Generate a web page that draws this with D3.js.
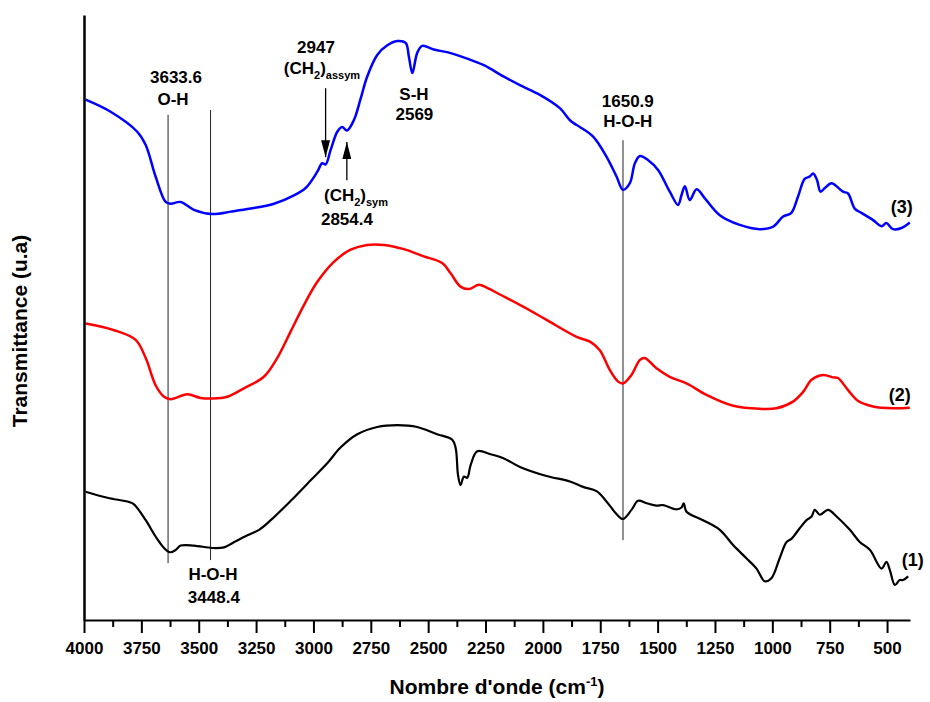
<!DOCTYPE html>
<html>
<head>
<meta charset="utf-8">
<script src="https://cdn.jsdelivr.net/npm/d3@7"></script>
<style>
  html, body { margin: 0; padding: 0; background: #fff; }
  svg { display: block; font-family: "Liberation Sans", Arial, sans-serif; }
  .tick text { font-weight: bold; font-size: 17px; }
  .lbl { font-weight: bold; font-size: 17px; fill: #000; }
  .series-lbl { font-weight: bold; font-size: 18px; fill: #000; }
  .title { font-weight: bold; font-size: 21px; fill: #000; }
</style>
</head>
<body>
<svg id="chart" width="930" height="702"></svg>
<script>
// FTIR spectra: [wavenumber (cm-1), transmittance (a.u.)]
const spectrum1 = [
  [3993,21.2],[3898,20.2],[3804,19.5],[3782,19.1],[3731,16.5],[3688,13.8],[3651,11.9],[3625,11.2],
  [3600,11.6],[3579,12.3],[3521,12.3],[3441,11.9],[3390,12.0],[3354,12.7],[3288,14.0],[3237,14.9],
  [3186,16.5],[3099,19.7],[3012,23.1],[2940,25.9],[2882,28.5],[2809,30.7],[2722,31.9],[2635,32.2],
  [2548,31.9],[2461,30.7],[2395,29.8],[2380,28.4],[2370,24.0],[2359,22.3],[2344,23.7],[2330,23.5],
  [2315,25.6],[2286,27.9],[2228,27.4],[2170,26.7],[2100,25.3],[1984,23.8],[1882,22.9],[1825,22.0],
  [1766,21.3],[1723,19.6],[1679,17.5],[1651,16.7],[1614,18.2],[1585,19.7],[1548,19.3],[1505,18.9],
  [1476,19.0],[1418,18.3],[1396,18.6],[1386,19.3],[1374,17.9],[1302,16.5],[1229,14.9],[1171,12.4],
  [1113,10.2],[1069,8.5],[1033,6.4],[1004,6.9],[968,10.2],[938,12.9],[917,13.4],[880,15.2],
  [851,16.5],[829,17.1],[815,18.2],[793,17.4],[757,18.2],[720,17.1],[662,14.9],[619,12.9],
  [575,11.6],[524,8.5],[503,9.6],[488,8.3],[466,5.8],[445,6.6],[430,6.6],[408,7.2]
];
const spectrum2 = [
  [3993,49.0],[3869,47.9],[3775,46.3],[3731,43.3],[3688,38.8],[3651,36.9],[3622,36.5],[3550,37.3],
  [3492,36.7],[3441,36.6],[3376,36.9],[3303,38.3],[3216,40.2],[3158,43.3],[3099,47.7],[3041,52.1],
  [2983,55.9],[2911,59.2],[2838,61.2],[2766,62.0],[2693,62.0],[2606,61.3],[2519,60.1],[2439,59.0],
  [2402,57.3],[2359,55.1],[2323,54.7],[2279,55.4],[2243,54.9],[2187,53.8],[2086,51.8],[1984,49.6],
  [1853,46.8],[1795,46.0],[1752,44.6],[1708,41.3],[1672,39.4],[1651,39.1],[1614,40.5],[1577,43.0],
  [1556,43.3],[1505,41.6],[1447,40.2],[1374,39.1],[1287,37.2],[1171,35.4],[1055,34.9],[982,35.0],
  [910,36.1],[866,37.7],[829,39.7],[779,40.5],[735,40.1],[714,40.0],[670,38.0],[626,36.2],
  [561,35.3],[474,35.0],[401,35.1]
];
const spectrum3 = [
  [3993,86.0],[3884,84.0],[3768,80.7],[3731,78.5],[3688,73.3],[3644,69.1],[3622,68.8],[3579,69.1],
  [3521,67.8],[3441,67.1],[3361,67.5],[3274,68.0],[3172,68.8],[3085,70.2],[3034,71.4],[2983,74.1],
  [2962,75.5],[2947,75.3],[2925,77.7],[2896,80.7],[2875,81.5],[2854,80.9],[2824,82.6],[2794,86.2],
  [2766,89.8],[2722,93.4],[2678,95.0],[2635,95.7],[2598,95.4],[2584,93.1],[2569,90.4],[2548,93.7],
  [2526,94.9],[2475,94.3],[2402,93.7],[2330,92.8],[2257,91.7],[2170,89.8],[2100,88.4],[2013,86.8],
  [1926,84.6],[1882,82.6],[1861,82.0],[1839,81.5],[1781,79.9],[1723,76.6],[1679,73.3],[1651,71.1],
  [1621,72.2],[1599,75.5],[1577,76.7],[1541,76.0],[1498,74.4],[1447,70.8],[1411,68.6],[1396,70.2],
  [1381,71.7],[1360,69.4],[1330,71.2],[1294,69.7],[1229,66.9],[1142,65.3],[1055,64.6],[997,65.0],
  [953,66.7],[917,67.3],[888,70.0],[859,72.9],[837,73.3],[822,73.8],[805,72.7],[790,70.8],
  [771,71.4],[742,72.2],[692,70.8],[670,70.5],[641,68.0],[612,67.3],[561,66.1],[524,65.1],
  [503,65.6],[474,64.6],[437,64.8],[401,65.7]
];
const seriesColors = ["#000000", "#ff0000", "#0000ff"];
const seriesNames = ["(1)", "(2)", "(3)"];

const xTicks = [4000, 3750, 3500, 3250, 3000, 2750, 2500, 2250, 2000, 1750, 1500, 1250, 1000, 750, 500];
const xMinorTicks = [3875, 3625, 3375, 3125, 2875, 2625, 2375, 2125, 1875, 1625, 1375, 1125, 875, 625];

// band markers: wavenumber, value range of the guide line
const bandLines = [
  { wn: 3633.6, y0: 9.4, y1: 83.5 },
  { wn: 3448.4, y0: 9.9, y1: 84.3 },
  { wn: 1650.9, y0: 13.2, y1: 79.3 }
];

// CH2 arrows: wavenumber, tail value, head value
const arrows = [
  { wn: 2947, from: 87.9, to: 76.5 },
  { wn: 2854.4, from: 72.7, to: 79.0 }
];

const width = 930, height = 702;
const margin = { top: 15, right: 20, bottom: 82, left: 84 };

const svg = d3.select("#chart");

const x = d3.scaleLinear().domain([4000, 400]).range([margin.left, width - margin.right]);
const y = d3.scaleLinear().domain([0, 100]).range([height - margin.bottom, margin.top]);

// guide lines for the annotated bands
svg.append("g").selectAll("line").data(bandLines).join("line")
  .attr("x1", d => x(d.wn)).attr("x2", d => x(d.wn))
  .attr("y1", d => y(d.y0)).attr("y2", d => y(d.y1))
  .attr("stroke", "#222").attr("stroke-width", 1);

// spectra
const line = d3.line()
  .x(d => x(d[0]))
  .y(d => y(d[1]))
  .curve(d3.curveCatmullRom.alpha(0.5));

const spectra = [spectrum1, spectrum2, spectrum3];
svg.append("g").selectAll("path").data(spectra).join("path")
  .attr("d", line)
  .attr("fill", "none")
  .attr("stroke", (d, i) => seriesColors[i])
  .attr("stroke-width", (d, i) => i === 0 ? 2.2 : 2.5)
  .attr("stroke-linejoin", "round");

// arrows with long narrow heads
svg.append("defs").append("marker")
  .attr("id", "head")
  .attr("viewBox", "0 0 17 9")
  .attr("refX", 17).attr("refY", 4.5)
  .attr("markerWidth", 17).attr("markerHeight", 9)
  .attr("markerUnits", "userSpaceOnUse")
  .attr("orient", "auto")
  .append("path").attr("d", "M0,0 L17,4.5 L0,9 Z").attr("fill", "#000");

svg.append("g").selectAll("line").data(arrows).join("line")
  .attr("x1", d => x(d.wn)).attr("x2", d => x(d.wn))
  .attr("y1", d => y(d.from)).attr("y2", d => y(d.to))
  .attr("stroke", "#000").attr("stroke-width", 1.3)
  .attr("marker-end", "url(#head)");

// axes
const gx = svg.append("g").attr("transform", `translate(0,${height - margin.bottom})`);
gx.call(d3.axisBottom(x).tickValues(xTicks).tickSize(13).tickSizeOuter(0).tickPadding(9).tickFormat(d3.format("d")));
gx.select(".domain").attr("stroke-width", 2);
gx.selectAll(".tick line").attr("stroke-width", 2);
gx.selectAll(".tick text").attr("fill", "#000");

const gxm = svg.append("g").attr("transform", `translate(0,${height - margin.bottom})`);
gxm.call(d3.axisBottom(x).tickValues(xMinorTicks).tickSize(7).tickFormat(""));
gxm.select(".domain").remove();
gxm.selectAll(".tick line").attr("stroke-width", 2);

const gy = svg.append("g").attr("transform", `translate(${margin.left},0)`);
gy.call(d3.axisLeft(y).tickValues([]).tickSizeOuter(0));
gy.select(".domain").attr("stroke-width", 2.5);

// axis titles
svg.append("text")
  .attr("class", "title")
  .attr("x", 497)
  .attr("y", 694)
  .attr("text-anchor", "middle")
  .call(t => {
    t.append("tspan").text("Nombre d'onde (cm");
    t.append("tspan").attr("dy", -8).attr("font-size", 13).text("-1");
    t.append("tspan").attr("dy", 8).text(")");
  });

svg.append("text")
  .attr("class", "title")
  .attr("transform", `translate(27,331) rotate(-90)`)
  .attr("text-anchor", "middle")
  .text("Transmittance (u.a)");

// band annotations
const plainLabels = [
  { text: "3633.6", wn: 3599, v: 88.8 },
  { text: "O-H", wn: 3612, v: 85.1 },
  { text: "2947", wn: 2989, v: 93.7 },
  { text: "S-H", wn: 2562, v: 86.0 },
  { text: "2569", wn: 2560, v: 82.6 },
  { text: "2854.4", wn: 2854, v: 65.3 },
  { text: "1650.9", wn: 1630, v: 84.8 },
  { text: "H-O-H", wn: 1630, v: 81.5 },
  { text: "H-O-H", wn: 3438, v: 6.6 },
  { text: "3448.4", wn: 3434, v: 2.8 }
];
svg.append("g").selectAll("text").data(plainLabels).join("text")
  .attr("class", "lbl")
  .attr("x", d => x(d.wn)).attr("y", d => y(d.v))
  .attr("text-anchor", "middle")
  .text(d => d.text);

const subLabels = [
  { sub: "assym", wn: 3129, v: 90.2 },
  { sub: "sym", wn: 2954, v: 69.2 }
];
svg.append("g").selectAll("text").data(subLabels).join("text")
  .attr("class", "lbl")
  .attr("x", d => x(d.wn)).attr("y", d => y(d.v))
  .each(function(d) {
    const t = d3.select(this);
    t.append("tspan").text("(CH");
    t.append("tspan").attr("dy", 5).attr("font-size", 11).text("2");
    t.append("tspan").attr("dy", -5).text(")");
    t.append("tspan").attr("dy", 5).attr("font-size", 11).text(d.sub);
  });

// series labels
const seriesLabelPos = [
  { wn: 388, v: 8.9 },
  { wn: 445, v: 36.2 },
  { wn: 436, v: 67.3 }
];
svg.append("g").selectAll("text").data(seriesLabelPos).join("text")
  .attr("class", "series-lbl")
  .attr("x", d => x(d.wn)).attr("y", d => y(d.v))
  .attr("text-anchor", "middle")
  .text((d, i) => seriesNames[i]);
</script>
</body>
</html>
